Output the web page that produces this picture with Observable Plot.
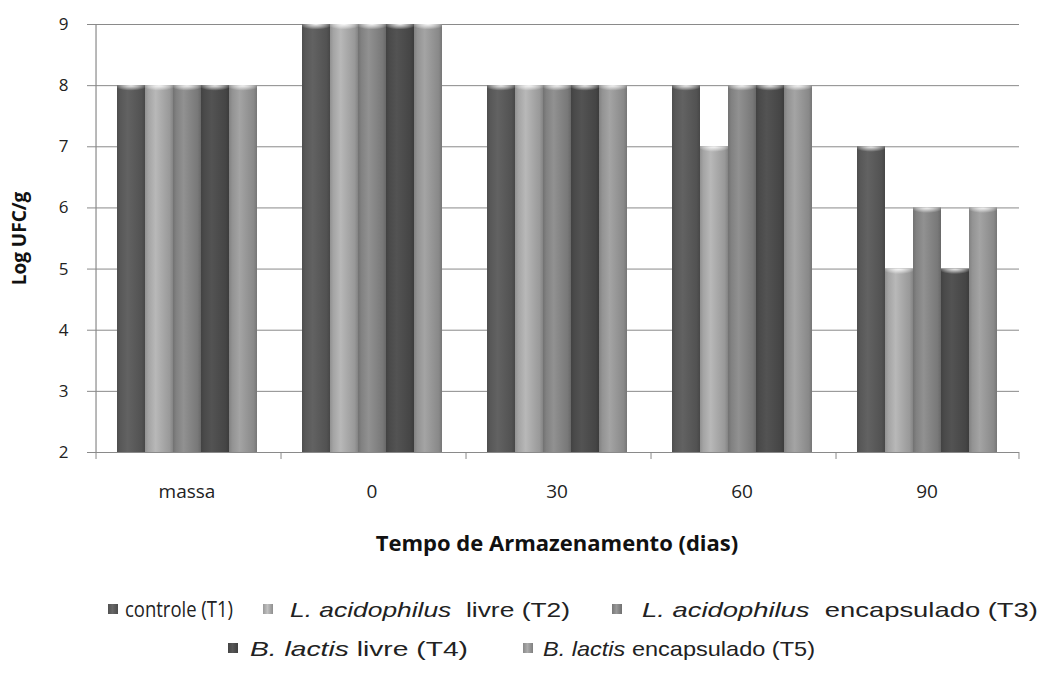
<!DOCTYPE html>
<html>
<head>
<meta charset="utf-8">
<script src="https://cdn.jsdelivr.net/npm/d3@7"></script>
<script src="https://cdn.jsdelivr.net/npm/@observablehq/plot@0.6"></script>
<style>
  html, body { margin: 0; padding: 0; background: #fff; }
  #chart { width: 1041px; height: 562px; }
  #legend { display: block; }
</style>
</head>
<body>
<svg width="0" height="0" style="position:absolute">
  <defs id="grads"></defs>
</svg>
<div id="chart"></div>
<svg id="legend" width="1041" height="113"></svg>
<script>
// ---- data ----
const groups = ["massa", "0", "30", "60", "90"];
const seriesKeys = ["T1", "T2", "T3", "T4", "T5"];
const seriesNames = [
  "controle (T1)",
  "L. acidophilus  livre (T2)",
  "L. acidophilus  encapsulado (T3)",
  "B. lactis livre (T4)",
  "B. lactis encapsulado (T5)"
];
const T1 = [8, 9, 8, 8, 7];
const T2 = [8, 9, 8, 7, 5];
const T3 = [8, 9, 8, 8, 6];
const T4 = [8, 9, 8, 8, 5];
const T5 = [8, 9, 8, 8, 6];
const yTicks = [2, 3, 4, 5, 6, 7, 8, 9];
const seriesColors = ["#5b5b5b", "#aaaaaa", "#868686", "#4d4d4d", "#989898"];

const values = [T1, T2, T3, T4, T5];
const rows = [];
seriesKeys.forEach((s, i) => groups.forEach((g, j) => rows.push({group: g, series: s, value: values[i][j]})));

// ---- gradients (cylinder shading) ----
const defs = d3.select("#grads");
seriesColors.forEach((c, i) => {
  const base = d3.color(c);
  const g = defs.append("linearGradient").attr("id", "cyl" + i).attr("x1", "0").attr("x2", "1").attr("y1", "0").attr("y2", "0");
  [[0, base.darker(0.45)], [0.12, base.darker(0.1)], [0.38, base.brighter(0.22)], [0.6, base], [0.88, base.darker(0.3)], [1, base.darker(0.7)]]
    .forEach(([o, col]) => g.append("stop").attr("offset", o).attr("stop-color", col.formatHex()));
});
const cap = defs.append("radialGradient").attr("id", "cap").attr("cx", "0.5").attr("cy", "0").attr("r", "0.6").attr("fx", "0.5").attr("fy", "0");
cap.append("stop").attr("offset", 0).attr("stop-color", "#fff").attr("stop-opacity", 0.95);
cap.append("stop").attr("offset", 0.55).attr("stop-color", "#fff").attr("stop-opacity", 0.45);
cap.append("stop").attr("offset", 1).attr("stop-color", "#fff").attr("stop-opacity", 0);

// ---- layout ----
const W = 1041, mL = 93, mR = 21, mT = 24, mB = 110, H = 562;
const padOuter = 0.74;
const facetW = (W - mL - mR) / groups.length;
const step = facetW / (seriesKeys.length + 2 * padOuter);
const edge = step * (0.5 + padOuter);
const gridColor = "#8a8a8a";

const marks = [
  Plot.ruleY([3, 4, 5, 6, 7, 8, 9], {stroke: gridColor, strokeWidth: 1}),
  Plot.ruleY([2], {stroke: gridColor, strokeWidth: 1.2}),
  Plot.ruleX([{group: groups[0]}], {fx: "group", x: () => seriesKeys[0], dx: -edge, y1: 2, y2: 9, stroke: gridColor, strokeWidth: 1.2}),
  Plot.ruleX([0], {x: () => seriesKeys[0], dx: -edge, y1: 2, y2: 2, insetBottom: -7, stroke: gridColor}),
  Plot.ruleX([{group: groups[groups.length - 1]}], {fx: "group", x: () => seriesKeys[seriesKeys.length - 1], dx: edge, y1: 2, y2: 2, insetBottom: -7, stroke: gridColor}),
];
seriesKeys.forEach((s, i) => {
  const d = rows.filter(r => r.series === s);
  marks.push(Plot.barY(d, {fx: "group", x: "series", y1: 2, y2: "value", fill: `url(#cyl${i})`, inset: 0}));
  marks.push(Plot.barY(d, {fx: "group", x: "series", y1: r => r.value - 0.15, y2: "value", fill: "url(#cap)", inset: 0}));
});
marks.push(
  Plot.axisY({ticks: yTicks, tickSize: 7, tickPadding: 19, fontSize: 17, stroke: gridColor, color: "#222", label: null, tickFormat: d3.format("d")}),
  Plot.axisY({ticks: [], label: "Log UFC/g", labelArrow: "none", labelAnchor: "center", labelOffset: 82, fontSize: 19, fontWeight: "bold", color: "#111"}),
  Plot.axisFx({anchor: "bottom", tickSize: 0, tickPadding: 32, fontSize: 19, color: "#222", label: null}),
  Plot.axisFx({anchor: "bottom", ticks: [], label: "Tempo de Armazenamento (dias)", labelArrow: "none", labelAnchor: "center", labelOffset: 98, fontSize: 22, fontWeight: "bold", color: "#111"})
);

const chart = Plot.plot({
  width: W, height: H,
  marginLeft: mL, marginRight: mR, marginTop: mT, marginBottom: mB,
  style: {fontFamily: "'Open Sans', 'DejaVu Sans', sans-serif", background: "#fff"},
  fx: {domain: groups, padding: 0},
  x: {domain: seriesKeys, paddingInner: 0, paddingOuter: padOuter, axis: null},
  y: {domain: [2, 9]},
  marks
});
document.getElementById("chart").appendChild(chart);

// ---- legend (SVG below the chart) ----
// item layout: [series index, swatch x, text x, text width, row]
const legendLayout = [
  [0, 108, 125, 108, 0],
  [1, 263, 290, 280, 0],
  [2, 612, 642, 396, 0],
  [3, 228, 250, 218, 1],
  [4, 523, 543, 272, 1]
];
const rowY = [47, 86];
const lg = d3.select("#legend");
legendLayout.forEach(([i, sx, tx, tw, r]) => {
  const base = d3.color(seriesColors[i]);
  const gid = "sw" + i;
  const g = defs.append("linearGradient").attr("id", gid);
  g.append("stop").attr("offset", 0).attr("stop-color", base.darker(0.3).formatHex());
  g.append("stop").attr("offset", 0.45).attr("stop-color", base.brighter(0.35).formatHex());
  g.append("stop").attr("offset", 1).attr("stop-color", base.darker(0.5).formatHex());
  lg.append("rect").attr("x", sx).attr("y", rowY[r] - 5).attr("width", 10).attr("height", 10).attr("fill", `url(#${gid})`);
  const name = seriesNames[i];
  const m = name.match(/^([LB]\. [a-z]+)(.*)$/);
  const t = lg.append("text").attr("x", tx).attr("y", rowY[r]).attr("dy", "0.36em")
    .attr("textLength", tw).attr("lengthAdjust", "spacingAndGlyphs")
    .attr("font-size", 21).attr("fill", "#222")
    .attr("font-family", i === 0 ? "'Open Sans', sans-serif" : "'Liberation Sans', Arial, sans-serif")
    .style("white-space", "pre");
  if (m) {
    t.append("tspan").attr("font-style", "italic").text(m[1]);
    t.append("tspan").text(m[2]);
  } else {
    t.text(name);
  }
});
</script>
</body>
</html>
